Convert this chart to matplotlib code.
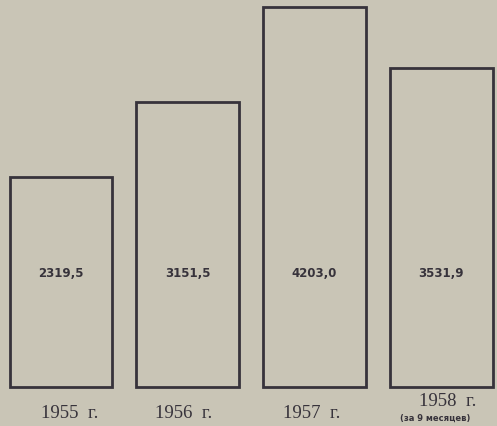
import matplotlib
matplotlib.use("Agg")
import matplotlib.pyplot as plt

years = ["1955  г.", "1956  г.", "1957  г.", "1958  г."]
values = [2319.5, 3151.5, 4203.0, 3531.9]
value_labels = ["2319,5", "3151,5", "4203,0", "3531,9"]
note_1958 = "(за 9 месяцев)"

bg = "#c9c5b6"
ink = "#37333b"

fig = plt.figure(figsize=(4.97, 4.27), dpi=100, facecolor=bg)
ax = fig.add_axes([0, 0, 1, 1])
ax.set_facecolor(bg)
ax.set_xlim(-0.48, 3.44)
ax.set_ylim(-431, 4292)
ax.axis("off")

x = list(range(len(values)))
ax.bar(x, values, width=0.81, facecolor="none", edgecolor=ink, linewidth=2.0)

for xi, lab in zip(x, value_labels):
    ax.text(xi, 1270, lab, ha="center", va="center", fontsize=8.5,
            fontweight="bold", family="Liberation Sans Narrow", color=ink)

label_dx = [0.07, -0.03, -0.02, 0.05]
for xi, yr, dx in zip(x, years, label_dx):
    if xi == 3:
        ax.text(xi + dx, -145, yr, ha="center", va="center", fontsize=13.5,
                family="Liberation Serif", color=ink)
        ax.text(xi - 0.05, -330, note_1958, ha="center", va="center", fontsize=6,
                fontweight="bold", family="DejaVu Sans", color=ink)
    else:
        ax.text(xi + dx, -280, yr, ha="center", va="center", fontsize=13.5,
                family="Liberation Serif", color=ink)

fig.savefig("out.png", dpi=100, facecolor=bg)
